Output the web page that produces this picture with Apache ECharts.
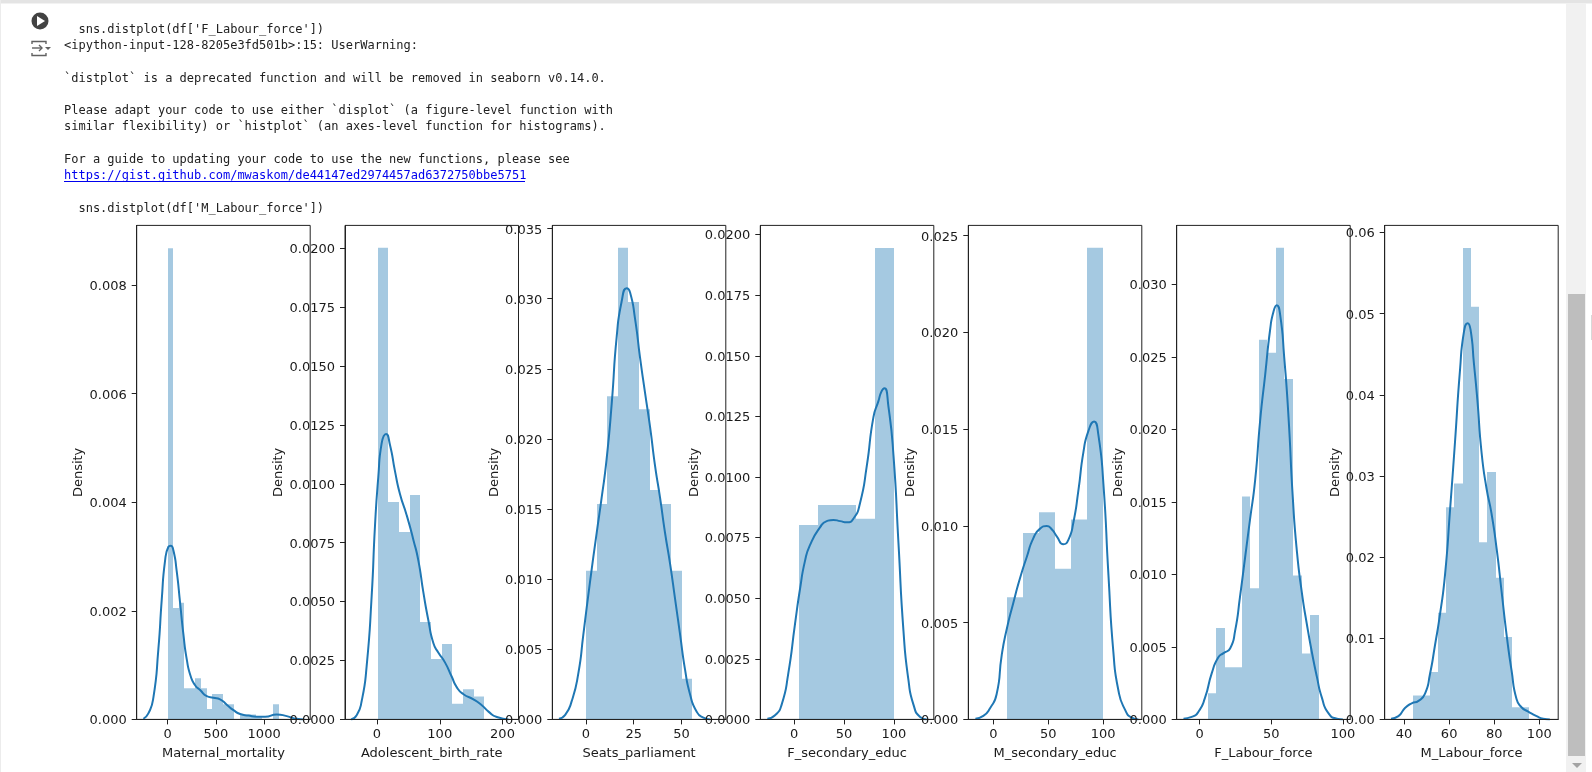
<!DOCTYPE html>
<html>
<head>
<meta charset="utf-8">
<style>html,body{margin:0;padding:0;background:#fff;overflow:hidden}#c{width:1592px;height:772px}</style>
<script src="https://cdn.jsdelivr.net/npm/echarts@6/dist/echarts.min.js"></script>
</head>
<body>
<div id="c"></div>
<script>
// ---- histogram bin edges and heights, KDE curves, tick labels ----
const maternalEdges = [1,58,116,173,231,288,346,403,461,518,576,633,690,748,805,863,920,978,1035,1093,1150];
const maternalHeights = [.00868,.00205,.00215,.000575,.000575,.00076,.000575,.00019,.00047,.00047,.00028,.00028,0,.00009,.00009,.00009,.00004,0,0,.00028];
const maternalKde = [[-253,.00001],[-201,.00011],[-149,.0004],[-97,.0013],[-62,.00221],[-28,.00292],[7,.00318],[31,.0032],[59,.00311],[93,.00273],[128,.00215],[163,.00156],[197,.00111],[239,.00079],[284,.00063],[336,.00054],[405,.00043],[474,.0004],[543,.00037],[612,.00027],[682,.00017],[751,.0001],[837,.00007],[924,.00005],[1010,.00005],[1131,.00009],[1235,.00006],[1339,.00001],[1408,0]];

const adolescentEdges = [1,18,35,52,69,86,103,120,137,154,171];
const adolescentHeights = [.02002,.00923,.00795,.00953,.00413,.00256,.0032,.00066,.00128,.00097];
const adolescentKde = [[-41.5,0],[-32.4,.00018],[-24.5,.00077],[-16.5,.00226],[-8.5,.00524],[-3.2,.00822],[2.1,.0103],[7.4,.01172],[14.4,.01212],[20.7,.01165],[28.7,.01053],[36.7,.00956],[47.3,.00867],[58,.00762],[66,.00673],[73.9,.00539],[81.9,.0042],[89.9,.00323],[97.9,.00283],[108.5,.00241],[119,.00182],[127,.00137],[137.8,.00107],[153.7,.00085],[167,.0006],[177.7,.00033],[191,.0001],[209.6,0]];

const seatsEdges = [0,5.56,11.12,16.68,22.24,27.8,33.36,38.92,44.48,50.04,55.6];
const seatsHeights = [.01061,.01536,.02304,.03363,.02977,.02212,.01636,.01536,.01061,.0029];
const seatsKde = [[-14.2,.00005],[-11,.0003],[-7.5,.0013],[-4,.0033],[-1.4,.00605],[2.1,.00981],[5.6,.01331],[8.2,.01581],[10.8,.01856],[13.5,.02257],[16.1,.02732],[18.7,.02982],[21.3,.03075],[23.1,.03045],[25.7,.02857],[28.3,.02582],[30.9,.02332],[33.6,.02082],[36.2,.01806],[38.8,.01581],[41.4,.01331],[44.1,.01106],[46.7,.00856],[49.3,.00605],[51.9,.00355],[54.5,.0018],[58,.00055],[61.5,.00013],[65,0]];

const fSecondaryEdges = [5.3,24.3,43.2,62.2,81.1,100];
const fSecondaryHeights = [.00802,.00884,.00884,.00828,.01945];
const fSecondaryKde = [[-26.8,.00003],[-19,.00017],[-12.4,.00061],[-5.7,.00191],[1,.00394],[6,.00538],[11,.00654],[16,.00719],[26,.00792],[32.8,.00818],[39.5,.00823],[46.2,.00818],[52.8,.00813],[59.5,.00828],[66.2,.00893],[72.9,.01045],[79.6,.01247],[84.6,.01313],[87.6,.01352],[90.6,.01366],[94.6,.01291],[99.7,.01088],[104.7,.00726],[109.7,.00365],[114.7,.00162],[119.7,.00061],[126.4,.0001],[133.1,0]];

const mSecondaryEdges = [12.2,26.8,41.5,56.1,70.8,85.4,100];
const mSecondaryHeights = [.00631,.00963,.01071,.00778,.01033,.02437];
const mSecondaryKde = [[-16.4,.00004],[-9.1,.00018],[-3,.00058],[3,.0013],[7.6,.0033],[12.2,.00466],[18.2,.00602],[24.3,.00729],[30.4,.00838],[36.5,.00937],[42.6,.00986],[48.6,.00999],[53.2,.00983],[57.8,.00946],[63.8,.00905],[68.4,.00928],[73,.01019],[77.5,.01182],[82.1,.01381],[86.6,.0149],[91.8,.01539],[95.7,.01472],[100.3,.01218],[104.9,.00747],[109.4,.00348],[114,.00149],[120.1,.00049],[126.1,.00009],[132.2,0]];

const fLabourEdges = [5.6,11.6,17.5,23.5,29.4,35.4,41.3,47.3,53.2,59.2,65.1,71.1,77,83];
const fLabourHeights = [.00181,.00631,.0036,.0036,.01536,.00905,.02618,.02528,.03252,.02347,.00992,.00455,.00719];
const fLabourKde = [[-11.4,.00005],[-5.6,.00017],[-.9,.00053],[3.7,.0015],[8.4,.00319],[13,.00428],[16.6,.00457],[21.2,.00489],[24.7,.0061],[28.2,.00852],[31.7,.01118],[35.2,.01384],[38.7,.0165],[42.2,.02061],[45.7,.02376],[49.2,.0269],[51.5,.02811],[53.8,.02855],[56.2,.02787],[59,.02497],[62,.02086],[65,.01529],[67.8,.01166],[71.3,.00876],[74.8,.00658],[78.3,.00465],[81.8,.00295],[85.3,.0015],[90,.00041],[95.8,.00005],[100,0]];

const mLabourEdges = [44,47.7,51.3,55,58.7,62.3,66,69.7,73.3,77,80.6,84.3,88,91.6,95.3];
const mLabourHeights = [.00295,.00295,.00585,.01315,.02613,.02908,.05811,.05085,.02182,.03048,.01746,.01016,.0015,.0015];
const mLabourKde = [[34.2,.00009],[37.5,.0004],[40.4,.00141],[43.4,.00198],[46.4,.00229],[49.3,.00317],[51.5,.00559],[53.7,.00911],[56,.01306],[58.2,.0179],[60.4,.02582],[62.6,.03418],[64.8,.04298],[66.6,.04782],[68.2,.04883],[69.5,.04804],[71,.04386],[72.5,.03946],[74.4,.03286],[76.6,.02846],[78.8,.02538],[81.1,.02098],[83.3,.0157],[85.5,.01043],[87.7,.00603],[89.9,.00251],[92.1,.0015],[95.1,.00097],[98.8,.0004],[101.7,.00009],[104.7,0]];

const xTicks = [[0,500,1000],[0,100,200],[0,25,50],[0,50,100],[0,50,100],[0,50,100],[40,60,80,100]];
const yTicks = [
  [0,.002,.004,.006,.008],
  [0,.0025,.005,.0075,.01,.0125,.015,.0175,.02],
  [0,.005,.01,.015,.02,.025,.03,.035],
  [0,.0025,.005,.0075,.01,.0125,.015,.0175,.02],
  [0,.005,.01,.015,.02,.025],
  [0,.005,.01,.015,.02,.025,.03],
  [0,.01,.02,.03,.04,.05,.06]
];
const yDecimals = [3,4,3,4,3,3,2];
const xNames = ['Maternal_mortality','Adolescent_birth_rate','Seats_parliament','F_secondary_educ','M_secondary_educ','F_Labour_force','M_Labour_force'];
const allEdges = [maternalEdges,adolescentEdges,seatsEdges,fSecondaryEdges,mSecondaryEdges,fLabourEdges,mLabourEdges];
const allHeights = [maternalHeights,adolescentHeights,seatsHeights,fSecondaryHeights,mSecondaryHeights,fLabourHeights,mLabourHeights];
const allKde = [maternalKde,adolescentKde,seatsKde,fSecondaryKde,mSecondaryKde,fLabourKde,mLabourKde];

// axis limits
const xMins = [-322,-51,-17.66,-33.8,-22.8,-16.1,31.4];
const xMaxs = [1478,225.5,73.25,140.1,135.3,105.1,108.4];
const yMaxs = [.0091,.02097,.03523,.02038,.02553,.03406,.06088];

// layout
const panelLefts = [136.7,345,552.3,760.3,968.3,1176.7,1384.7];
const panelW = 173.5, panelTop = 225.4, panelH = 494;
const nameGaps = [51,60,50,58,49,50,43];

const headerLines = [
  ["  sns.distplot(df['F_Labour_force'])",64,30],
  ["<ipython-input-128-8205e3fd501b>:15: UserWarning:",64,46],
  ["`distplot` is a deprecated function and will be removed in seaborn v0.14.0.",64,79],
  ["Please adapt your code to use either `displot` (a figure-level function with",64,111],
  ["similar flexibility) or `histplot` (an axes-level function for histograms).",64,127],
  ["For a guide to updating your code to use the new functions, please see",64,160],
  ["  sns.distplot(df['M_Labour_force'])",64,209]
];
const linkText = 'https://gist.github.com/mwaskom/de44147ed2974457ad6372750bbe5751';

const MONO = '"DejaVu Sans Mono", monospace';
const grid=[],xAxis=[],yAxis=[],series=[];
xNames.forEach((name,i)=>{
  const z=10*(i+1);
  grid.push({left:panelLefts[i],top:panelTop,width:panelW,height:panelH,show:true,borderColor:'#222',borderWidth:1,backgroundColor:'transparent',z:z-1});
  const lab={color:'#1a1a1a',fontFamily:'DejaVu Sans',fontSize:13};
  xAxis.push({type:'value',gridIndex:i,min:xMins[i],max:xMaxs[i],z:z+1,
    splitLine:{show:false},
    axisLine:{show:true,onZero:false,lineStyle:{color:'#222',width:1}},
    axisTick:{show:true,length:5,customValues:xTicks[i],lineStyle:{color:'#222'}},
    axisLabel:Object.assign({customValues:xTicks[i],margin:9,formatter:v=>String(v)},lab),
    name:name,nameLocation:'middle',nameGap:28,nameTextStyle:lab});
  yAxis.push({type:'value',gridIndex:i,min:0,max:yMaxs[i],z:z+1,
    splitLine:{show:false},
    axisLine:{show:true,onZero:false,lineStyle:{color:'#222',width:1}},
    axisTick:{show:true,length:5,customValues:yTicks[i],lineStyle:{color:'#222'}},
    axisLabel:Object.assign({customValues:yTicks[i],margin:10,verticalAlign:'top',lineHeight:3,formatter:v=>v.toFixed(yDecimals[i])},lab),
    name:'Density',nameLocation:'middle',nameGap:nameGaps[i],nameTextStyle:lab});
  const bars=allHeights[i].map((h,k)=>[allEdges[i][k],allEdges[i][k+1],h]);
  series.push({type:'custom',xAxisIndex:i,yAxisIndex:i,z:z,silent:true,animation:false,clip:true,
    encode:{x:[0,1],y:2},data:bars,
    renderItem:(params,api)=>{
      const a=api.coord([api.value(0),api.value(2)]);
      const b=api.coord([api.value(1),0]);
      const x0=Math.round(a[0]),x1=Math.round(b[0]);
      return {type:'rect',shape:{x:x0,y:a[1],width:x1-x0,height:b[1]-a[1]},
        style:{fill:'#1f77b4',opacity:.4}};
    }});
  series.push({type:'line',xAxisIndex:i,yAxisIndex:i,z:z,silent:true,animation:false,
    data:allKde[i],showSymbol:false,smooth:.6,lineStyle:{color:'#1f77b4',width:2}});
});

const g=[];
g.push({type:'rect',shape:{x:0,y:0,width:1592,height:3},style:{fill:'#e4e4e4'},silent:true});
g.push({type:'rect',shape:{x:0,y:3,width:1592,height:1},style:{fill:'#f2f2f2'},silent:true});
g.push({type:'rect',shape:{x:0,y:0,width:1,height:772},style:{fill:'#ececec'},silent:true});
headerLines.forEach(l=>g.push({type:'text',x:l[1],y:l[2],silent:true,
  style:{text:l[0],font:'12px '+MONO,fill:'#212121',verticalAlign:'middle',align:'left'}}));
g.push({type:'text',x:64,y:176,silent:true,style:{text:linkText,font:'12px '+MONO,fill:'#0000ee',verticalAlign:'middle',align:'left'}});
g.push({type:'line',shape:{x1:64,y1:181.5,x2:525,y2:181.5},style:{stroke:'#0000ee',lineWidth:1},silent:true});
// run button
g.push({type:'circle',shape:{cx:40,cy:21,r:8.5},style:{fill:'#424242'},silent:true});
g.push({type:'polygon',shape:{points:[[37,16],[37,26],[45,21]]},style:{fill:'#fff'},silent:true});
// output icon
[[[32,44],[32,41.5],[46,41.5],[46,44]],[[32,53],[32,55.5],[46,55.5],[46,53]],[[32,48],[42,48]]].forEach(p=>
  g.push({type:'polyline',shape:{points:p},style:{stroke:'#616161',lineWidth:1.4,fill:null},silent:true}));
g.push({type:'polyline',shape:{points:[[39,45],[42,48],[39,51]]},style:{stroke:'#616161',lineWidth:1.4,fill:null},silent:true});
g.push({type:'polygon',shape:{points:[[45,47],[51,47],[48,50]]},style:{fill:'#616161'},silent:true});
// scrollbar
g.push({type:'rect',shape:{x:1566,y:3,width:20,height:769},style:{fill:'#f1f1f1'},silent:true});
g.push({type:'rect',shape:{x:1568,y:294,width:17,height:462},style:{fill:'#bebebe'},silent:true});
g.push({type:'polygon',shape:{points:[[1572,763],[1582,763],[1577,768]]},style:{fill:'#a3a3a3'},silent:true});
g.push({type:'rect',shape:{x:1591,y:315,width:1,height:25},style:{fill:'#d8d8d8'},silent:true});

const chart=echarts.init(document.getElementById('c'));
chart.setOption({animation:false,backgroundColor:'#fff',grid,xAxis,yAxis,series,graphic:{elements:g}});
</script>
</body>
</html>
